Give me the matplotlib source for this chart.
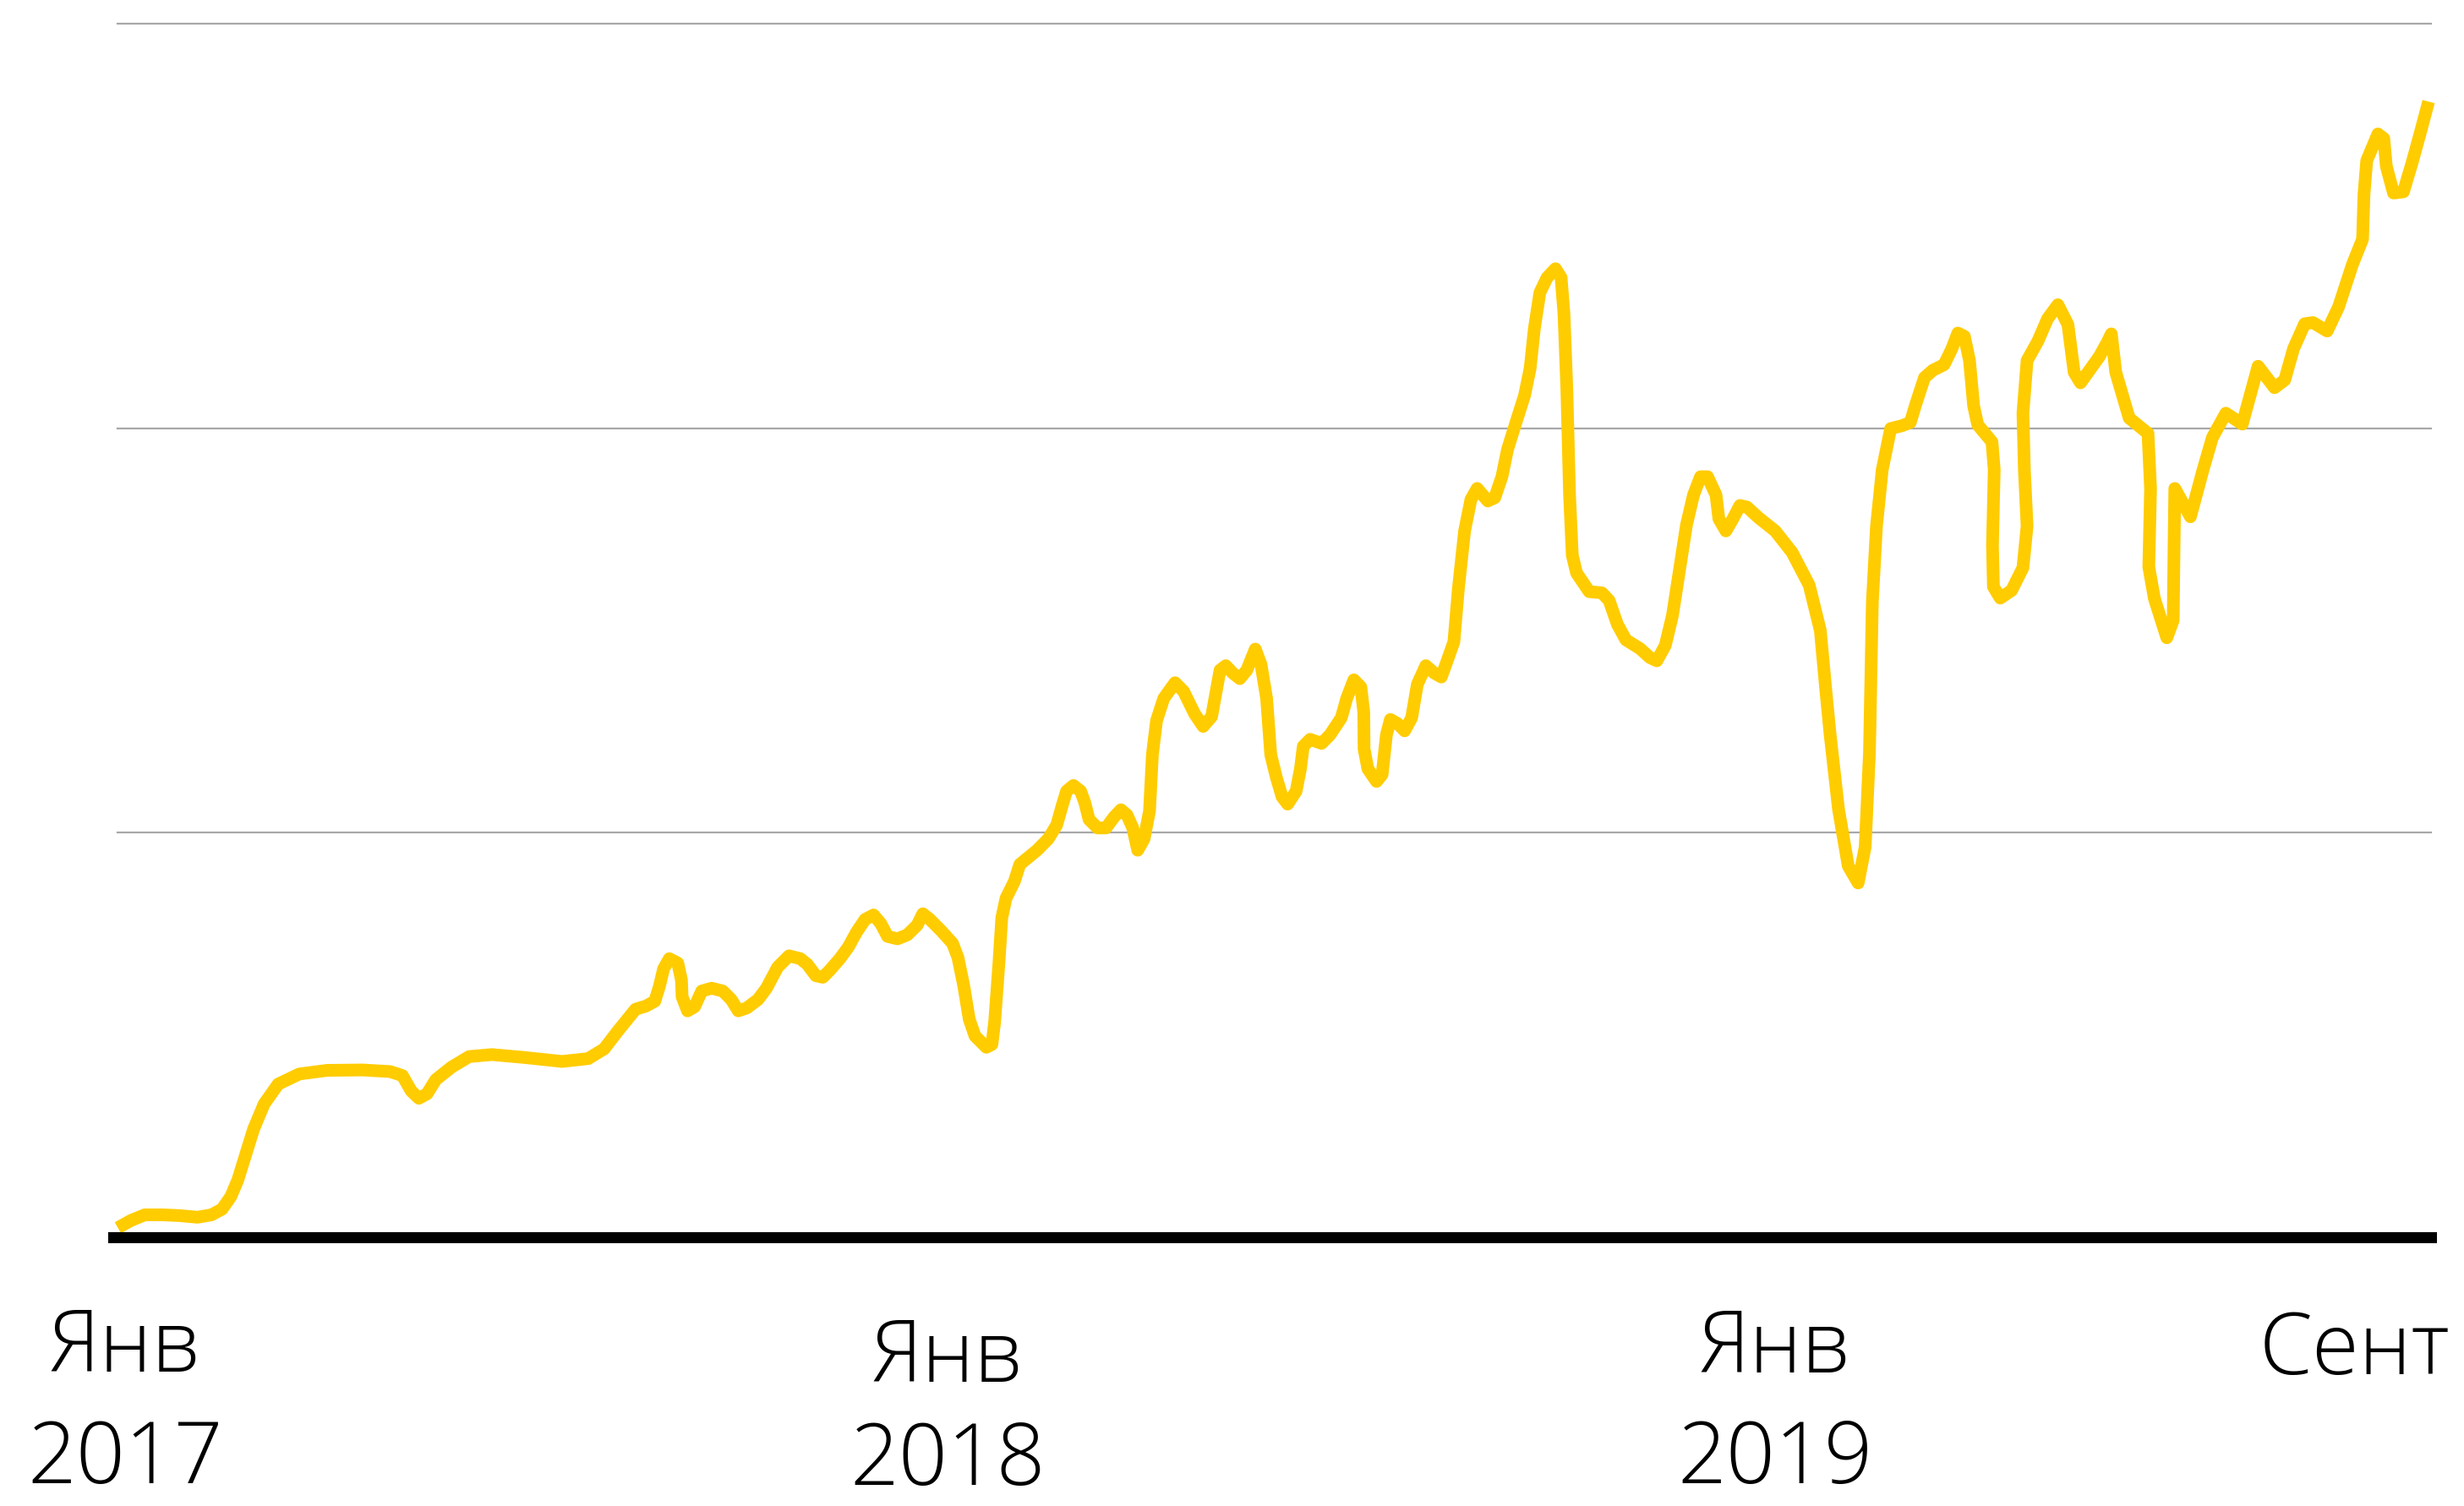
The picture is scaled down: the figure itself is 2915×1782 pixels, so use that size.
import matplotlib.pyplot as plt
import matplotlib.transforms as mtransforms

# weeks since Jan 2017 and index value (unlabelled scale, gridlines at 100/200/300)
weeks = [0.00, 0.82, 1.69, 2.80, 3.89, 4.99, 5.87, 6.53, 7.08, 7.52,
         7.96, 8.51, 9.17, 10.05, 11.37, 13.12, 15.32, 17.07, 17.84, 18.39,
         18.87, 19.38, 19.93, 20.92, 22.02, 23.44, 25.43, 27.84, 29.48, 30.48,
         31.36, 32.45, 33.11, 33.66, 33.95, 34.21, 34.57, 35.10, 35.33, 35.37,
         35.71, 36.15, 36.60, 37.22, 37.92, 38.45, 38.89, 39.42, 40.13, 40.66,
         41.36, 42.07, 42.78, 43.22, 43.75, 44.19, 44.64, 45.26, 45.78, 46.31,
         46.84, 47.37, 47.82, 48.25, 48.87, 49.49, 50.11, 50.46, 50.90, 51.61,
         52.32, 52.66, 53.02, 53.37, 53.73, 54.44, 54.79, 54.96, 55.23, 55.41,
         55.67, 56.20, 56.54, 57.62, 58.32, 58.85, 59.20, 59.47, 59.90, 60.35,
         60.61, 60.88, 61.41, 61.94, 62.47, 62.88, 63.26, 63.62, 63.93, 64.33,
         64.67, 64.85, 65.11, 65.56, 66.27, 66.80, 67.50, 68.03, 68.56, 68.83,
         69.09, 69.45, 69.88, 70.33, 70.77, 71.30, 71.66, 72.01, 72.27, 72.62,
         72.98, 73.33, 73.86, 74.13, 74.31, 74.74, 75.45, 75.98, 76.69, 77.03,
         77.48, 77.92, 78.10, 78.12, 78.36, 78.90, 79.25, 79.52, 79.77, 80.22,
         80.66, 81.10, 81.46, 81.99, 82.51, 82.96, 83.31, 83.75, 84.03, 84.42,
         84.82, 85.21, 85.88, 86.31, 86.76, 87.11, 87.64, 88.18, 88.53, 88.79,
         89.14, 89.59, 90.12, 90.47, 90.65, 90.83, 91.00, 91.17, 91.44, 92.23,
         93.03, 93.48, 94.00, 94.53, 95.42, 96.04, 96.47, 97.00, 97.45, 97.89,
         98.33, 98.77, 99.21, 99.65, 100.18, 100.36, 100.80, 101.24, 101.68, 102.12,
         102.84, 103.89, 104.95, 106.02, 106.72, 107.07, 107.33, 107.86, 108.47, 109.09,
         109.53, 109.80, 109.98, 110.24, 110.60, 111.13, 111.83, 112.36, 112.71, 113.25,
         113.77, 114.48, 114.96, 115.34, 115.75, 116.07, 116.33, 116.59, 117.48, 117.62,
         117.51, 117.57, 118.00, 118.71, 119.42, 119.68, 119.51, 119.42, 119.68, 120.37,
         120.96, 121.61, 122.24, 122.63, 123.03, 124.21, 124.70, 124.96, 125.24, 126.08,
         127.26, 127.42, 127.31, 127.66, 128.44, 128.84, 128.89, 128.94, 129.92, 130.71,
         131.30, 132.14, 133.17, 134.16, 135.19, 135.83, 136.38, 137.08, 137.60, 138.49,
         139.21, 140.07, 140.71, 140.80, 140.97, 141.67, 142.04, 142.20, 142.65, 143.27,
         143.80, 144.33, 144.85]

values = [2.4, 4.2, 5.6, 5.6, 5.4, 5.0, 5.6, 7.0, 10.1, 14.2,
          19.8, 26.8, 33.0, 37.9, 40.4, 41.3, 41.4, 41.0, 40.0, 36.2,
          34.4, 35.5, 39.0, 42.1, 44.7, 45.2, 44.5, 43.5, 44.2, 46.6,
          51.1, 56.4, 57.2, 58.4, 62.1, 66.4, 68.9, 67.8, 63.6, 59.5,
          56.0, 57.0, 60.9, 61.6, 60.9, 58.8, 56.0, 56.7, 58.8, 61.6,
          66.8, 69.6, 68.9, 67.5, 64.7, 64.3, 66.1, 68.9, 71.7, 75.5,
          78.6, 79.7, 77.6, 74.4, 73.8, 74.8, 77.2, 80.0, 78.6, 75.8,
          72.7, 69.2, 62.3, 53.9, 49.8, 47.0, 47.7, 53.2, 67.8, 79.0,
          83.8, 88.0, 92.2, 95.7, 98.5, 101.9, 106.8, 110.3, 111.7, 110.3,
          107.5, 103.3, 101.2, 101.2, 104.0, 105.7, 104.4, 101.2, 95.7, 98.5,
          105.4, 119.3, 127.7, 133.2, 137.1, 135.0, 129.4, 126.3, 128.7, 134.6,
          140.2, 141.3, 139.5, 138.1, 140.2, 145.4, 141.6, 133.2, 119.3, 113.7,
          108.9, 107.1, 110.3, 115.8, 121.4, 123.1, 122.1, 124.2, 128.4, 133.2,
          137.8, 136.0, 129.8, 120.7, 115.8, 112.7, 114.4, 124.2, 128.0, 127.0,
          125.2, 128.4, 136.7, 141.3, 139.5, 138.5, 142.3, 147.2, 160.3, 174.6,
          182.4, 185.1, 182.0, 182.8, 188.0, 194.7, 201.4, 208.1, 214.8, 224.5,
          233.5, 237.2, 239.4, 237.2, 228.3, 209.6, 183.5, 168.6, 164.2, 159.6,
          159.3, 157.4, 151.5, 147.7, 145.5, 143.3, 142.5, 146.3, 153.7, 164.9,
          176.1, 183.5, 188.0, 188.0, 183.5, 177.6, 174.6, 177.6, 180.9, 180.5,
          177.9, 174.6, 169.3, 161.2, 150.0, 135.0, 124.4, 105.8, 91.8, 87.6,
          96.5, 119.8, 157.0, 175.8, 189.7, 199.9, 200.6, 201.4, 206.0, 212.5,
          214.3, 215.7, 219.6, 223.5, 222.7, 216.7, 205.5, 200.8, 196.6, 189.7,
          171.0, 160.8, 158.0, 159.9, 165.5, 175.8, 189.7, 203.7, 216.7, 221.6,
          227.0, 230.5, 225.6, 213.8, 211.2, 217.7, 221.2, 223.3, 213.8, 202.5,
          198.7, 185.1, 165.7, 157.9, 148.2, 152.5, 169.9, 185.1, 178.1, 189.7,
          197.7, 203.7, 201.0, 215.3, 210.0, 211.9, 219.6, 225.8, 226.1, 224.0,
          230.0, 240.4, 246.7, 257.8, 266.1, 272.7, 271.6, 264.7, 258.1, 258.4,
          265.4, 273.0, 280.7]

# tick labels (x in weeks, baseline y in figure fraction)
label_pos = [0.44, 52.0, 103.9, 140.2]
label_month = ["Янв", "Янв", "Янв", "Сент"]
label_year = ["2017", "2018", "2019", ""]
month_y = [0.0891, 0.0824, 0.0886, 0.0876]
year_y = [0.0150, 0.0140, 0.0150, 0.0]

gridlines = [100, 200, 300]

fig = plt.figure(figsize=(29.15, 17.82), dpi=100)
ax = fig.add_axes([0.04783, 0.1783, 0.98661 - 0.04783, 0.9844 - 0.1783])
ax.set_xlim(0, 145)
ax.set_ylim(0, 300)
ax.axis("off")

for g in gridlines:
    ax.axhline(g, color="#a8a8a8", lw=1.6, zorder=1, clip_on=False)
ax.axhline(0, xmin=-0.002, color="black", lw=9.4, zorder=3, clip_on=False)

ax.plot(weeks, values, color="#ffcc00", lw=10.8, zorder=2,
        solid_joinstyle="round", solid_capstyle="butt", clip_on=False)

font = dict(family=["Open Sans", "DejaVu Sans"], fontweight="light", fontsize=73,
            ha="center", va="baseline", color="black")
blend = mtransforms.blended_transform_factory(ax.transData, fig.transFigure)
for x, m, yr, my, yy in zip(label_pos, label_month, label_year, month_y, year_y):
    ax.text(x, my, m, transform=blend, **font)
    if yr:
        ax.text(x, yy, yr, transform=blend, **font)

fig.savefig("out.png", dpi=100)
